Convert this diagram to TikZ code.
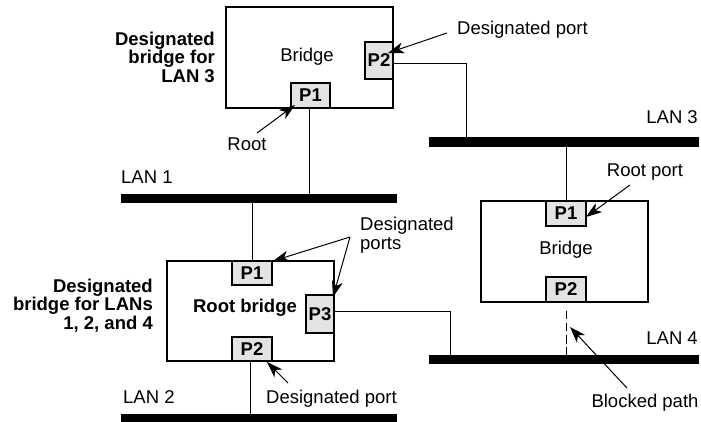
\documentclass[tikz,border=0pt]{standalone}
\usepackage{fontspec}
\setmainfont{Liberation Sans}
\usetikzlibrary{arrows.meta}
\begin{document}
\begin{tikzpicture}[x=1pt,y=-1pt,
  every node/.style={font=\fontsize{18.5}{18.5}\selectfont},
  bridgebox/.style={draw, line width=1.1pt, fill=white, minimum width=#1, inner sep=0pt},
  portbox/.style={draw, line width=1.1pt, fill=black!11, inner sep=0pt, font=\fontsize{18.5}{18.5}\selectfont\bfseries},
  lanbar/.style={fill=black, draw=none, inner sep=0pt, minimum height=9.5pt},
  wire/.style={line width=1pt},
  arr/.style={line width=1pt, -{Stealth[length=16pt,width=11pt,inset=4.5pt]}},
  lbl/.style={inner sep=0pt},
  blbl/.style={inner sep=0pt, font=\fontsize{18.5}{18.5}\selectfont\bfseries}
]
\useasboundingbox (0,0) rectangle (701,422);

% bridges
\node[bridgebox=167pt, minimum height=101pt] (b3) at (309.5,57.5) {};
\node[lbl] (b3t) at (307,57) {Bridge};
\node[portbox, minimum width=39pt, minimum height=25pt] (b3p1) at (310.5,95.5) {P1};
\node[portbox, minimum width=28pt, minimum height=37pt] (b3p2) at (379,60.5) {P2};

\node[bridgebox=167pt, minimum height=100pt] (rb) at (250.5,311) {};
\node[blbl] (rbt) at (245,308) {Root bridge};
\node[portbox, minimum width=40pt, minimum height=24pt] (rp1) at (252,273) {P1};
\node[portbox, minimum width=28pt, minimum height=38pt] (rp3) at (320,314) {P3};
\node[portbox, minimum width=40pt, minimum height=24pt] (rp2) at (252,349) {P2};

\node[bridgebox=167pt, minimum height=101pt] (b4) at (564.5,251.5) {};
\node[lbl] (b4t) at (566,250) {Bridge};
\node[portbox, minimum width=40pt, minimum height=25pt] (bp1) at (566,213.5) {P1};
\node[portbox, minimum width=40pt, minimum height=25pt] (bp2) at (566,289.5) {P2};

% LANs
\node[lanbar, minimum width=276pt] (lan1) at (259,198.5) {};
\node[lanbar, minimum width=276pt] (lan2) at (259,419) {};
\node[lanbar, minimum width=270pt] (lan3) at (564,142) {};
\node[lanbar, minimum width=270pt] (lan4) at (564,359.5) {};

\node[lbl, anchor=west] (l1t) at (121,177) {LAN 1};
\node[lbl, anchor=west] (l2t) at (123,397) {LAN 2};
\node[lbl, anchor=east] (l3t) at (698,117) {LAN 3};
\node[lbl, anchor=east] (l4t) at (698,338) {LAN 4};

% wires
\coordinate (w1) at (466,63.5);
\coordinate (w3) at (450.5,311.7);
\draw[wire] (b3p1.south -| 309.3,0) -- (309.3,0 |- lan1.north);
\draw[wire] (lan1.south -| rp1.north) -- (rp1.north);
\draw[wire] (rp2.south -| 250.7,0) -- (250.7,0 |- lan2.north);
\draw[wire] (b3p2.east |- w1) -- (w1) -- (w1 |- lan3.north);
\draw[wire] (rp3.east |- w3) -- (w3) -- (w3 |- lan4.north);
\draw[wire] (lan3.south -| 566.7,0) -- (566.7,0 |- b4.north);
\draw[wire, dash pattern=on 8.5pt off 3.8pt] ([yshift=-8pt]bp2.south -| 566.7,0) -- (566.7,0 |- lan4.north);

% side labels
\node[blbl, align=right, anchor=east] (d3) at (215,57) {Designated\\bridge for\\LAN 3};
\node[blbl, align=right, anchor=east] (d124) at (153,305.5) {Designated\\bridge for LANs\\1, 2, and 4};

% annotations
\node[lbl, anchor=west] (dp1) at (457,30) {Designated port};
\coordinate (dp1s) at (447,33);
\coordinate (dp1e) at (388,53);
\draw[arr] (dp1s) -- (dp1e);

\node[lbl] (root) at (247,144) {Root};
\coordinate (roots) at (257,133);
\coordinate (roote) at (295,105);
\draw[arr] (roots) -- (roote);

\node[lbl, align=left, anchor=west] (dps) at (360,235) {Designated\\ports};
\coordinate (dpss) at (350,237);
\coordinate (dpse1) at (273,261);
\coordinate (dpse2) at (333,297);
\draw[arr] (dpss) -- (dpse1);
\draw[arr] (dpss) -- (dpse2);

\node[lbl, anchor=west] (dp2) at (266,399) {Designated port};
\coordinate (dp2s) at (288,383);
\coordinate (dp2e) at (267,362);
\draw[arr] (dp2s) -- (dp2e);

\node[lbl] (rport) at (645,172) {Root port};
\coordinate (rps) at (630,185);
\coordinate (rpe) at (586,217);
\draw[arr] (rps) -- (rpe);

\node[lbl] (blk) at (645,403) {Blocked path};
\coordinate (blks) at (627,388);
\coordinate (blke) at (570,327);
\draw[arr] (blks) -- (blke);
\end{tikzpicture}
\end{document}
